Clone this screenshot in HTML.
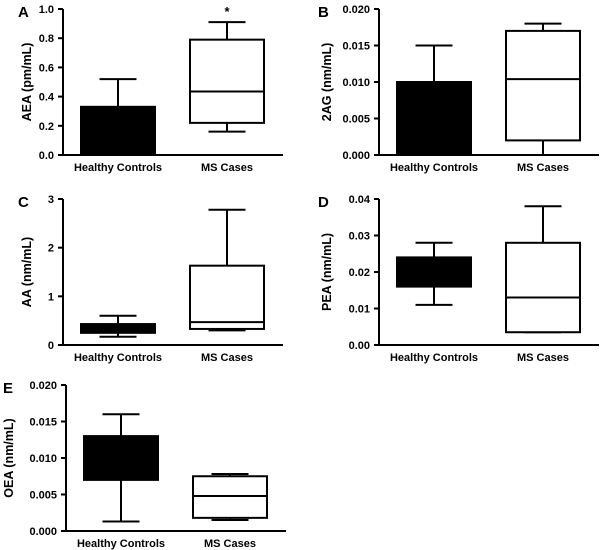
<!DOCTYPE html>
<html><head><meta charset="utf-8"><style>
body{margin:0;background:#fff;}
svg{display:block;font-family:"Liberation Sans",Arial,sans-serif;font-weight:bold;}
</style></head><body>
<svg id="chart" width="600" height="550" viewBox="0 0 600 550"></svg>
<script>
const categories = ["Healthy Controls", "MS Cases"];
const panelLetters = ["A","B","C","D","E"];
const yTitles = ["AEA (pm/mL)","2AG (nm/mL)","AA (nm/mL)","PEA (nm/mL)","OEA (nm/mL)"];
const yMaxes = [1.0, 0.020, 3, 0.04, 0.020];
const yTicks = [
  ["0.0","0.2","0.4","0.6","0.8","1.0"],
  ["0.000","0.005","0.010","0.015","0.020"],
  ["0","1","2","3"],
  ["0.00","0.01","0.02","0.03","0.04"],
  ["0.000","0.005","0.010","0.015","0.020"]
];
// [min, q1, median, q3, max]
const healthyStats = [
  [0, 0, 0.2, 0.33, 0.52],
  [0, 0, 0.005, 0.010, 0.015],
  [0.17, 0.25, 0.32, 0.43, 0.6],
  [0.011, 0.016, 0.02, 0.024, 0.028],
  [0.0013, 0.007, 0.01, 0.013, 0.016]
];
const msStats = [
  [0.16, 0.22, 0.435, 0.79, 0.91],
  [0, 0.002, 0.0104, 0.017, 0.018],
  [0.3, 0.33, 0.47, 1.63, 2.78],
  [0.0035, 0.0035, 0.013, 0.028, 0.038],
  [0.0015, 0.0018, 0.0048, 0.0075, 0.0078]
];
const annotations = ["*","","","",""];

const NS="http://www.w3.org/2000/svg";
const svg=document.getElementById('chart');
function mk(tag,attrs,parent){const e=document.createElementNS(NS,tag);for(const k in attrs)e.setAttribute(k,attrs[k]);(parent||svg).appendChild(e);return e;}
const layout=[
  {x:63,top:9,bot:155,lx:18,tx:31},
  {x:379,top:9,bot:155,lx:318,tx:331},
  {x:63,top:199,bot:345,lx:18,tx:31},
  {x:379,top:199,bot:345,lx:318,tx:331},
  {x:66,top:385,bot:531,lx:3,tx:13}];
layout.forEach((L,p)=>{
  const g=mk('g',{});
  
  
  const yS=v=>L.bot-(v/yMaxes[p])*(L.bot-L.top);
  const ax=mk('line',{x1:L.x,y1:L.top,x2:L.x,y2:L.bot,stroke:'#000','stroke-width':2},g);
  
  
  const xa=mk('line',{x1:L.x,y1:L.bot,x2:L.x+220,y2:L.bot,stroke:'#000','stroke-width':2},g);
  
  
  const n=yTicks[p].length;
  yTicks[p].forEach((t,i)=>{
    const y=L.bot-i*(L.bot-L.top)/(n-1);
    mk('line',{x1:L.x-5,y1:y,x2:L.x,y2:y,stroke:'#000','stroke-width':2},g);
    const tx=mk('text',{x:L.x-9,y:y+4,'text-anchor':'end','font-size':11},g);
    tx.textContent=t;
    
    
  });
  const lt=mk('text',{x:L.lx,y:L.top+8,'font-size':15},g);
  lt.textContent=panelLetters[p];
  
  
  const my=(L.top+L.bot)/2;
  const yt=mk('text',{x:0,y:0,'text-anchor':'middle','font-size':12.5,transform:`translate(${L.tx},${my}) rotate(-90)`},g);
  yt.textContent=yTitles[p];
  
  
  [healthyStats[p],msStats[p]].forEach((s,c)=>{
    const cx=L.x+55+c*109, hw=37, fill=c===0?'#000':'#fff';
    const bg=mk('g',{},g);
    
    
    mk('line',{x1:cx,y1:yS(s[0]),x2:cx,y2:yS(s[4]),stroke:'#000','stroke-width':2},bg);
    mk('line',{x1:cx-hw/2,y1:yS(s[4]),x2:cx+hw/2,y2:yS(s[4]),stroke:'#000','stroke-width':2},bg);
    mk('line',{x1:cx-hw/2,y1:yS(s[0]),x2:cx+hw/2,y2:yS(s[0]),stroke:'#000','stroke-width':2},bg);
    mk('rect',{x:cx-hw,y:yS(s[3]),width:2*hw,height:Math.max(0,yS(s[1])-yS(s[3])),fill:fill,stroke:'#000','stroke-width':2},bg);
    mk('line',{x1:cx-hw,y1:yS(s[2]),x2:cx+hw,y2:yS(s[2]),stroke:'#000','stroke-width':2},bg);
    const ct=mk('text',{x:cx,y:L.bot+16,'text-anchor':'middle','font-size':11},g);
    ct.textContent=categories[c];
    
    
    if(c===1&&annotations[p]){
      const a=mk('text',{x:cx,y:yS(s[4])-6,'text-anchor':'middle','font-size':13},g);
      a.textContent=annotations[p];
      
      
    }
  });
});
</script>
</body></html>
